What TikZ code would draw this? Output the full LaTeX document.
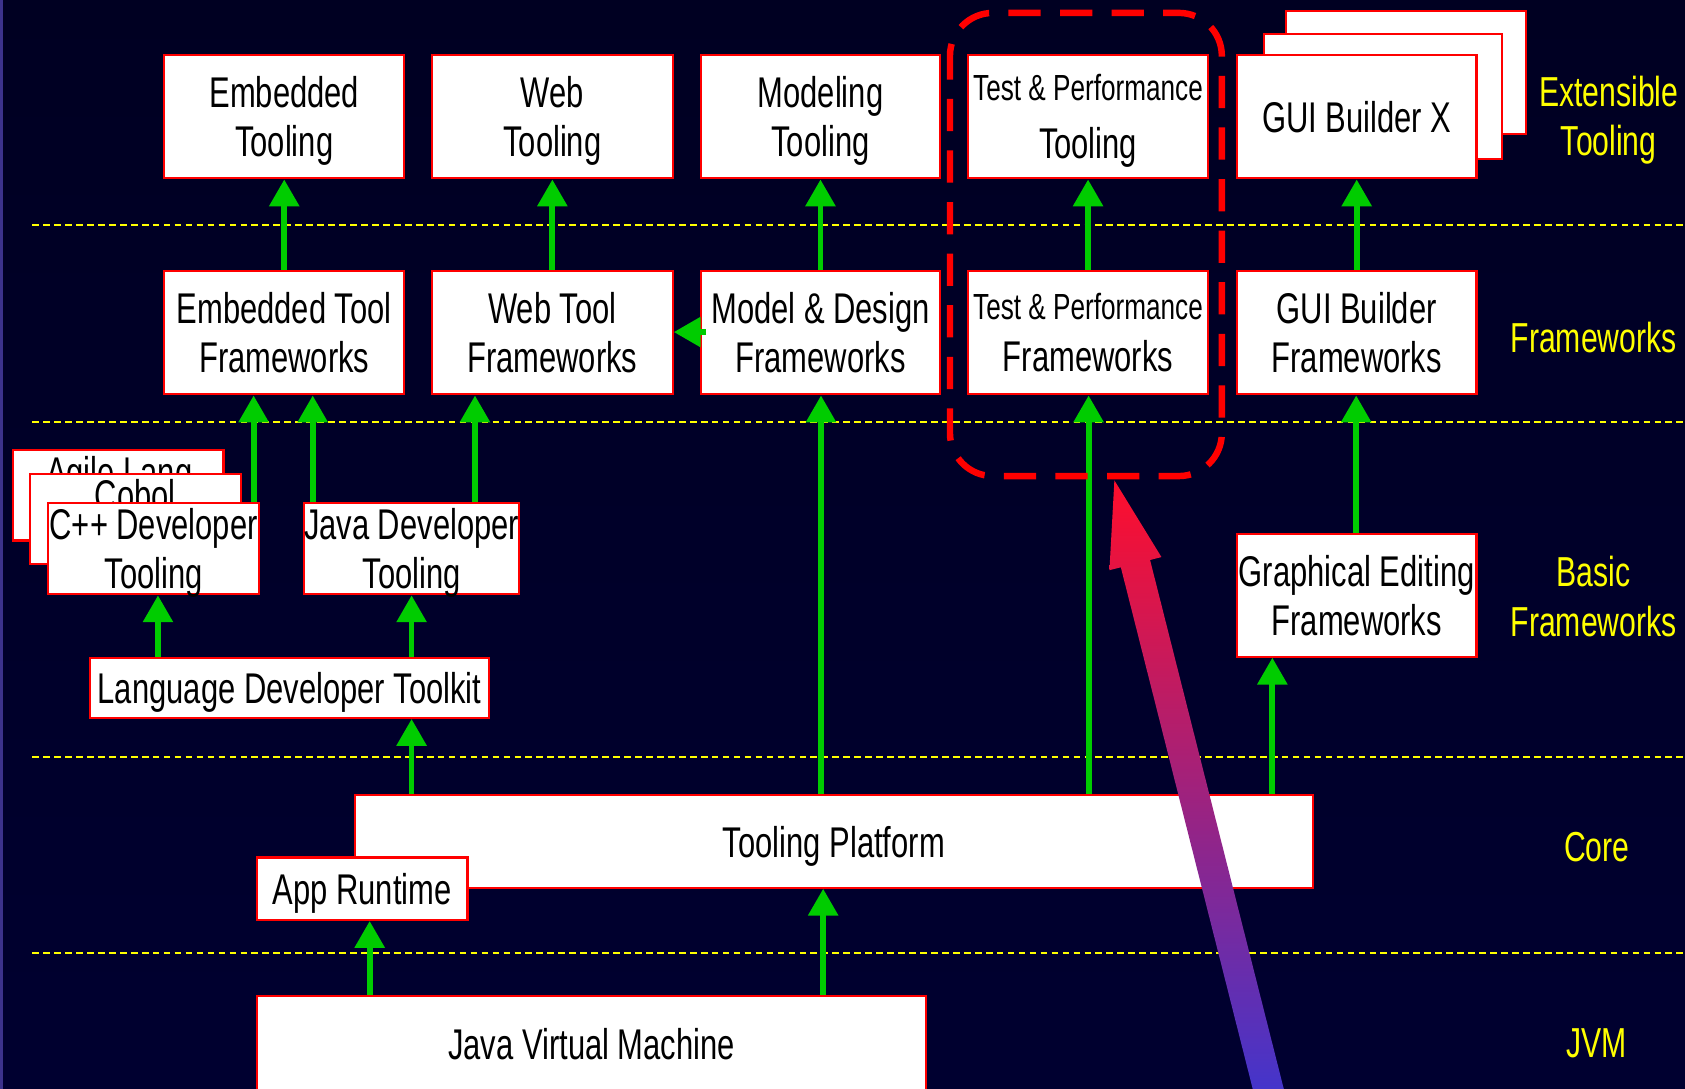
\documentclass[tikz,border=0pt]{standalone}
\usepackage{fontspec}
\setmainfont{Liberation Sans}[FakeStretch=0.72]
\usetikzlibrary{arrows.meta}
\definecolor{navy}{RGB}{0,0,34}
\definecolor{navybot}{RGB}{0,0,48}
\definecolor{edge}{RGB}{60,50,140}
\definecolor{grn}{RGB}{0,204,0}
\definecolor{ylw}{RGB}{255,255,0}
\definecolor{arrred}{RGB}{255,14,44}
\definecolor{arrblue}{RGB}{62,54,208}
\newcommand\bnode[6]{%
  \pgfmathsetmacro\bcx{(#2+#4)/2}\pgfmathsetmacro\bcy{(#3+#5)/2}%
  \pgfmathsetmacro\bw{(#4-#2)*0.5}\pgfmathsetmacro\bh{(#5-#3)*0.5}%
  \node[box, minimum width=\bw pt, minimum height=\bh pt] (#1) at (\bcx,\bcy) {#6};}
\begin{document}
\begin{tikzpicture}[x=0.5pt,y=-0.5pt,
  box/.style={draw=red, line width=1pt, fill=white, inner sep=0pt, align=center,
    text=black, text depth=0pt, font=\fontsize{20}{23}\selectfont},
  txt/.style={text=black, inner sep=0pt, text depth=0pt, font=\fontsize{20}{23}\selectfont},
  lab/.style={text=ylw, align=center, inner sep=0pt, text depth=0pt, font=\fontsize{19.5}{23}\selectfont},
  garrow/.style={draw=grn, line width=2.7pt, -{Triangle[width=13.5pt,length=12.5pt]}},
  sep/.style={draw=ylw, line width=0.9pt, dash pattern=on 3.1pt off 2pt}]
\useasboundingbox (0,0) rectangle (1568,1013);
\clip (0,0) rectangle (1568,1013);
\shade[top color=navy, bottom color=navybot] (0,0) rectangle (1568,1013);
\fill[edge] (0,0) rectangle (2.5,1013);

% separators
\foreach \yy in {209,393,704,887} \draw[sep] (30,\yy) -- (1568,\yy);

% row 1
\bnode{emb_t}{153}{51}{376}{166}{Embedded\\Tooling}
\bnode{web_t}{402}{51}{626}{166}{Web\\Tooling}
\bnode{mod_t}{652}{51}{875}{166}{Modeling\\Tooling}
\bnode{test_t}{901}{51}{1124}{166}{{\fontsize{16.9}{18}\selectfont Test \& Performance}\\[4pt]Tooling}
\bnode{gui_t3}{1197}{10}{1420}{125}{}
\bnode{gui_t2}{1176}{32}{1398}{148}{}
\bnode{gui_t}{1151}{51}{1374}{166}{GUI Builder X}

% row 2
\bnode{emb_f}{153}{252}{376}{367}{Embedded Tool\\Frameworks}
\bnode{web_f}{402}{252}{626}{367}{Web Tool\\Frameworks}
\bnode{mod_f}{652}{252}{875}{367}{Model \& Design\\Frameworks}
\bnode{test_f}{901}{252}{1124}{367}{{\fontsize{16.9}{18}\selectfont Test \& Performance}\\[1pt]Frameworks}
\bnode{gui_f}{1151}{252}{1374}{367}{GUI Builder\\Frameworks}

% row 3
\bnode{agile}{12}{419}{208}{503}{}
\node[txt] (agile_t) at (111,439) {Agile Lang};
\bnode{cobol}{28}{441}{224}{525}{}
\node[txt] (cobol_t) at (126,461) {Cobol};
\bnode{cpp}{45}{468}{241}{553}{C++ Developer\\Tooling}
\bnode{java}{285}{468}{481}{553}{Java Developer\\Tooling}
\bnode{ged}{1151}{497}{1374}{611}{Graphical Editing\\Frameworks}
\bnode{ldt}{84}{612}{455}{668}{Language Developer Toolkit}

% core
\bnode{tp}{330}{740}{1222}{826}{Tooling Platform}
\bnode{ar}{239}{798}{435}{856}{App Runtime}
\bnode{jvm}{239}{927}{862}{1016}{Java Virtual Machine}

% right labels
\node[lab] (l_ext) at (1497,108) {Extensible\\Tooling};
\node[lab] (l_fw) at (1483,314) {Frameworks};
\node[lab] (l_basic) at (1483,555) {Basic\\Frameworks};
\node[lab] (l_core) at (1486,788) {Core};
\node[lab] (l_jvm) at (1486,971) {JVM};

% green arrows
\draw[garrow] (emb_f.north) -- (emb_t.south);
\draw[garrow] (web_f.north) -- (web_t.south);
\draw[garrow] (mod_f.north) -- (mod_t.south);
\draw[garrow] (test_f.north) -- (test_t.south);
\draw[garrow] (gui_f.north) -- (gui_t.south);
\draw[garrow] ([xshift=3pt]mod_f.west |- 0,309) -- (web_f.east |- 0,309);
\draw[garrow] (cpp.north -| 236,0) -- (emb_f.south -| 236,0);
\draw[garrow] (java.north -| 291,0) -- (emb_f.south -| 291,0);
\draw[garrow] (java.north -| 442,0) -- (web_f.south -| 442,0);
\draw[garrow] (tp.north -| 764,0) -- (mod_f.south -| 764,0);
\draw[garrow] (tp.north -| 1013,0) -- (test_f.south -| 1013,0);
\draw[garrow] (tp.north -| 1184,0) -- (ged.south -| 1184,0);
\draw[garrow] (ged.north -| 1262,0) -- (gui_f.south -| 1262,0);
\draw[garrow] (ldt.north -| 147,0) -- (cpp.south -| 147,0);
\draw[garrow] (ldt.north -| 383,0) -- (java.south -| 383,0);
\draw[garrow] (tp.north -| 383,0) -- (ldt.south -| 383,0);
\draw[garrow] (jvm.north -| 344,0) -- (ar.south -| 344,0);
\draw[garrow] (jvm.north -| 766,0) -- (tp.south -| 766,0);

% red dashed group
\draw[red, line width=3pt, dash pattern=on 15pt off 9pt, dash phase=4pt, rounded corners=20pt]
  (884,12) rectangle (1137,443);

% big gradient arrow
\shade[top color=arrred, bottom color=arrblue]
  (1037,447) -- (1080.8,518.4) -- (1070.2,521.1) -- (1197.6,1025)
  -- (1170.4,1031.8) -- (1043.0,527.9) -- (1032.4,530.6) -- cycle;
\end{tikzpicture}
\end{document}
